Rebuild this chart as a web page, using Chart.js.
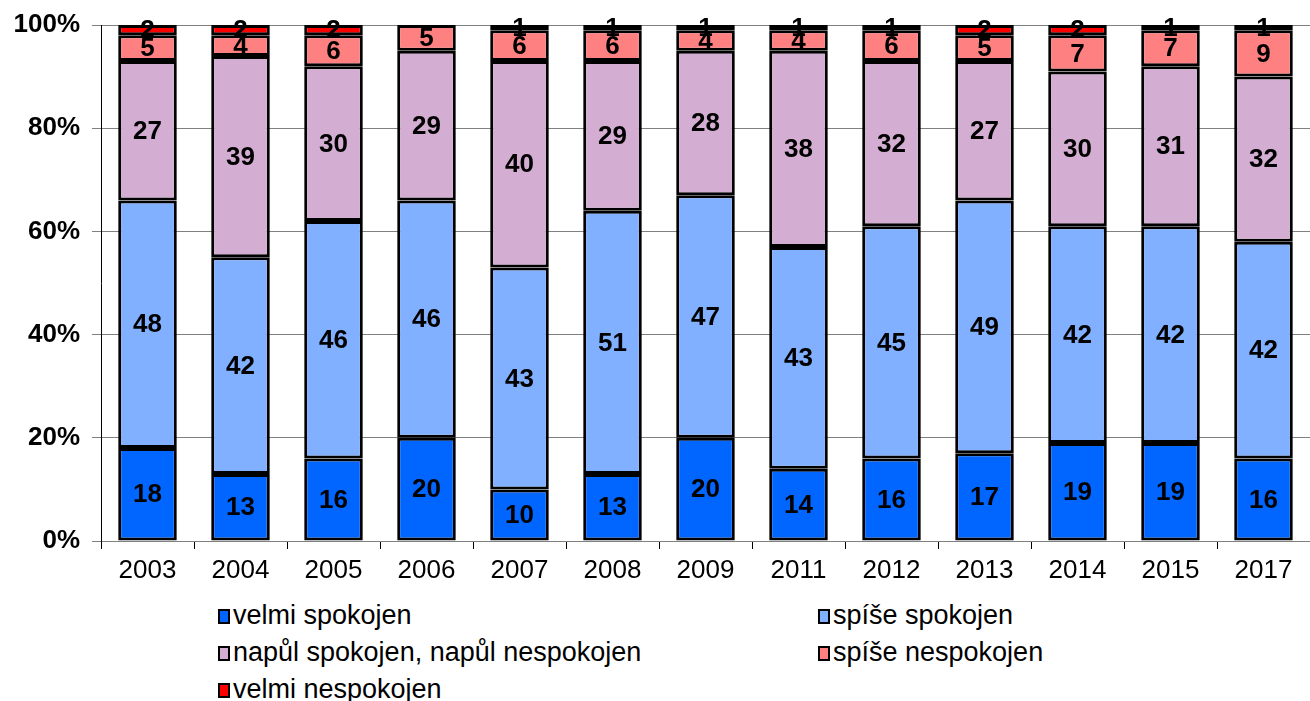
<!DOCTYPE html>
<html>
<head>
<meta charset="utf-8">
<script src="https://cdn.jsdelivr.net/npm/chart.js@4"></script>
<style>
    body { margin: 0; background: #fff; font-family: "Liberation Sans", Arial, sans-serif; }
    #wrap { position: relative; width: 1310px; height: 590px; }
    .legend-item { position: absolute; font-size: 27px; color: #000; line-height: 30px; white-space: nowrap; }
    .legend-item span.box { display: inline-block; width: 8px; height: 11px; border: 2px solid #000; margin-right: 3px; vertical-align: 0px; }
</style>
</head>
<body>
<div id="wrap"><canvas id="satisfactionChart"></canvas></div>
<div id="legend"></div>
<script>
    const years = ['2003', '2004', '2005', '2006', '2007', '2008', '2009', '2011', '2012', '2013', '2014', '2015', '2017'];
    const velmiSpokojen = [18, 13, 16, 20, 10, 13, 20, 14, 16, 17, 19, 19, 16];
    const spiseSpokojen = [48, 42, 46, 46, 43, 51, 47, 43, 45, 49, 42, 42, 42];
    const napulSpokojen = [27, 39, 30, 29, 40, 29, 28, 38, 32, 27, 30, 31, 32];
    const spiseNespokojen = [5, 4, 6, 5, 6, 6, 4, 4, 6, 5, 7, 7, 9];
    const velmiNespokojen = [2, 2, 2, 0, 1, 1, 1, 1, 1, 2, 2, 1, 1];
    const yTicks = [0, 20, 40, 60, 80, 100];

    const series = [
        { label: 'velmi spokojen', data: velmiSpokojen, color: '#0066FF' },
        { label: 'spíše spokojen', data: spiseSpokojen, color: '#80B0FF' },
        { label: 'napůl spokojen, napůl nespokojen', data: napulSpokojen, color: '#D4AED2' },
        { label: 'spíše nespokojen', data: spiseNespokojen, color: '#FF8080' },
        { label: 'velmi nespokojen', data: velmiNespokojen, color: '#FF0000' },
    ];

    // draws the numbers in the middle of each segment
    const segmentLabels = {
        id: 'segmentLabels',
        afterDatasetsDraw(chart) {
            const ctx = chart.ctx;
            ctx.save();
            ctx.font = 'bold 26px "Liberation Sans", Arial, sans-serif';
            ctx.fillStyle = '#000';
            ctx.textAlign = 'center';
            ctx.textBaseline = 'middle';
            chart.data.datasets.forEach(function (ds, i) {
                chart.getDatasetMeta(i).data.forEach(function (bar, j) {
                    const v = ds.data[j];
                    if (!v) return;
                    ctx.fillText(String(v), bar.x, (bar.y + bar.base) / 2 + 1);
                });
            });
            ctx.restore();
        }
    };

    new Chart(document.getElementById('satisfactionChart'), {
        type: 'bar',
        data: {
            labels: years,
            datasets: series.map(function (s) {
                return {
                    label: s.label,
                    data: s.data,
                    backgroundColor: s.color,
                    borderColor: '#000',
                    borderWidth: 3,
                    borderSkipped: false,
                    barPercentage: 0.63,
                    categoryPercentage: 1,
                };
            })
        },
        options: {
            responsive: true,
            maintainAspectRatio: false,
            animation: false,
            layout: { padding: { top: 25, right: 0, left: 0, bottom: 0 } },
            plugins: {
                legend: { display: false },
                tooltip: { enabled: false }
            },
            scales: {
                x: {
                    stacked: true,
                    afterFit: function (axis) { axis.height = 49; },
                    grid: { drawOnChartArea: false, tickLength: 8, color: '#000', offset: true },
                    border: { color: '#808080', width: 1 },
                    ticks: {
                        color: '#000',
                        padding: 6,
                        font: { family: '"Liberation Sans", Arial, sans-serif', size: 26 }
                    }
                },
                y: {
                    stacked: true,
                    min: 0,
                    max: 100,
                    afterFit: function (axis) { axis.width = 101; },
                    afterBuildTicks: function (axis) { axis.ticks = yTicks.map(function (v) { return { value: v }; }); },
                    grid: { color: '#808080', tickLength: 9 },
                    border: { color: '#000', width: 1 },
                    ticks: {
                        color: '#000',
                        padding: 12,
                        callback: function (v) { return v + '%'; },
                        font: { family: '"Liberation Sans", Arial, sans-serif', size: 26, weight: 'bold', lineHeight: 0.8 }
                    }
                }
            }
        },
        plugins: [segmentLabels]
    });

    // legend laid out in two columns like the original
    const legendPos = [
        [218, 600], [818, 600],
        [218, 637], [818, 637],
        [218, 674]
    ];
    const legendEl = document.getElementById('legend');
    series.forEach(function (s, i) {
        const item = document.createElement('div');
        item.className = 'legend-item';
        item.style.left = legendPos[i][0] + 'px';
        item.style.top = legendPos[i][1] + 'px';
        item.innerHTML = '<span class="box" style="background:' + s.color + '"></span>' + s.label;
        legendEl.appendChild(item);
    });
</script>
</body>
</html>
